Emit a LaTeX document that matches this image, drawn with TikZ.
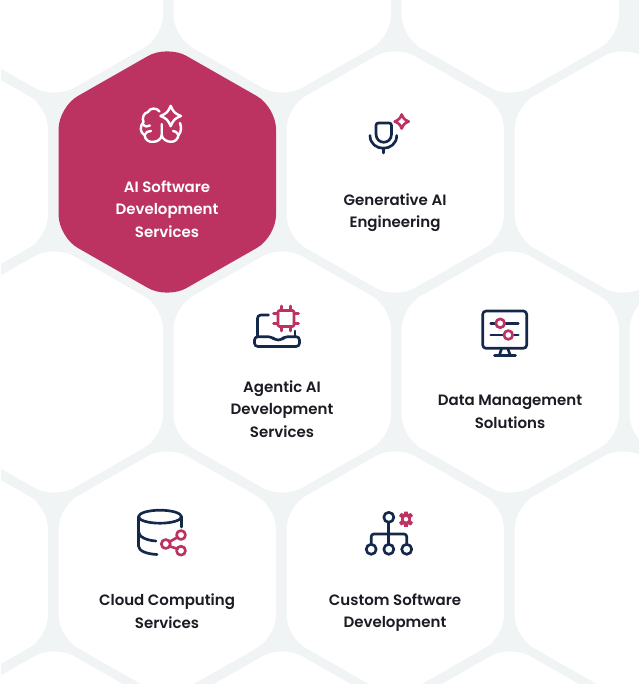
\documentclass[tikz,border=0pt]{standalone}
\usepackage{fontspec}
\setmainfont{Poppins}[BoldFont={Poppins SemiBold}]
\definecolor{gapgrey}{HTML}{F0F4F5}
\definecolor{cellrose}{HTML}{BC3361}
\definecolor{iconnavy}{HTML}{14284B}
\definecolor{labelink}{HTML}{1B1B24}
\tikzset{
	celllabel/.style={inner sep=0pt,align=center,font=\fontsize{11.25}{17}\selectfont\bfseries,text=labelink},
	navyline/.style={draw=iconnavy,line width=2pt,line cap=round,line join=round},
	roseline/.style={draw=cellrose,line width=2pt,line cap=round,line join=round},
	whiteline/.style={draw=white,line width=1.8pt,line cap=round,line join=round},
}
% one rounded honeycomb cell: centre x, centre y, colour
\newcommand{\hexcell}[3]{
	\fill[#3,rounded corners=16.5pt] (#1,#2-127) -- (#1+108.7,#2-65) -- (#1+108.7,#2+65) -- (#1,#2+127) -- (#1-108.7,#2+65) -- (#1-108.7,#2-65) -- cycle;
}
% four pointed star outline: centre x, centre y, radius, style
\newcommand{\sparkle}[4]{
	\draw[#4] (#1,#2-#3) .. controls (#1+0.25*#3,#2-0.4*#3) and (#1+0.4*#3,#2-0.25*#3) .. (#1+#3,#2)
		.. controls (#1+0.4*#3,#2+0.25*#3) and (#1+0.25*#3,#2+0.4*#3) .. (#1,#2+#3)
		.. controls (#1-0.25*#3,#2+0.4*#3) and (#1-0.4*#3,#2+0.25*#3) .. (#1-#3,#2)
		.. controls (#1-0.4*#3,#2-0.25*#3) and (#1-0.25*#3,#2-0.4*#3) .. cycle;
}
\begin{document}
\begin{tikzpicture}[x=0.75pt,y=0.75pt,yscale=-1,xscale=1]
	\useasboundingbox (0,0) rectangle (639,684);
	\clip (0,0) rectangle (639,684);

	% Background and cells
	\fill[white] (0,0) rectangle (639,684);
	\fill[gapgrey] (1,0) rectangle (639,684);
	\foreach \cx/\cy in {54.3/-28,282.3/-28,510.3/-28,
			-60.7/172,395.3/172,623.3/172,
			54.3/372,282.3/372,510.3/372,738.3/372,
			-60.7/572,167.3/572,395.3/572,623.3/572,
			54.3/772,282.3/772,510.3/772}{
		\hexcell{\cx}{\cy}{white}
	}
	\hexcell{167.3}{172}{cellrose}

	% Brain icon
	\draw[whiteline] (159.5,111.5) .. controls (157,107.5) and (150,107.5) .. (148,112) .. controls (143,113) and (142,119) .. (143.5,122) .. controls (139.5,126) and (140,133) .. (144.5,135)
		.. controls (145,140) and (149,142.5) .. (153.5,141.8) .. controls (157.5,141.8) and (161.5,139) .. (161.7,135) -- (161.7,124);
	\draw[whiteline] (161.7,135) .. controls (162,139) and (167,142) .. (171,141.8) .. controls (175,142) and (178,139) .. (178.5,135) .. controls (181.5,132) and (181.5,127) .. (180,123);
	\draw[whiteline] (142.5,124) .. controls (145,127) and (148,127) .. (150,125.5);
	\draw[whiteline] (144.5,135) .. controls (146,132) and (148,131) .. (151,131);
	\draw[whiteline] (178.5,135) .. controls (177,132) and (175,131) .. (173,131);
	\sparkle{170.7}{116}{10.2}{whiteline}
	% Text Node
	\node[celllabel,text=white] (aisoftware) at (167,209) {AI Software\\Development\\Services};

	% Microphone icon
	\draw[navyline] (378.5,123) -- (389,123) .. controls (390.5,123) and (391.5,124) .. (391.5,125.5) -- (391.5,134) .. controls (391.5,145) and (376,145) .. (376,134) -- (376,125.5) .. controls (376,124) and (377,123) .. (378.5,123) -- cycle;
	\draw[navyline] (370,135.5) .. controls (370,152.5) and (396.7,152.5) .. (396.7,135.5);
	\draw[navyline] (383.3,148) -- (383.3,153);
	\sparkle{401.7}{121.5}{7}{roseline}
	% Text Node
	\node[celllabel] (generative) at (395,212.6) {Generative AI\\Engineering};

	% Laptop and chip icon
	\draw[navyline,rounded corners=2.5pt] (268.5,315) -- (257.5,315) -- (257.5,336.7);
	\draw[navyline] (295,331) -- (295,336.7);
	\draw[navyline,rounded corners=2.5pt] (254.5,336.7) -- (271.5,336.7) -- (275,340) -- (281.5,340) -- (284.5,336.7) -- (299.5,336.7) -- (299.5,346.5) -- (254.5,346.5) -- cycle;
	\draw[roseline,rounded corners=1pt] (278,310.5) rectangle (294,326.5);
	\foreach \pin in {-4.7,4.7}{
		\draw[roseline] (286+\pin,310.5) -- (286+\pin,306);
		\draw[roseline] (286+\pin,326.5) -- (286+\pin,331);
		\draw[roseline] (278,318.5+\pin) -- (273.5,318.5+\pin);
		\draw[roseline] (294,318.5+\pin) -- (298.5,318.5+\pin);
	}
	% Text Node
	\node[celllabel] (agentic) at (282,409) {Agentic AI\\Development\\Services};

	% Monitor icon
	\draw[navyline,rounded corners=2.5pt] (482.7,311) rectangle (526.7,348.3);
	\draw[navyline] (490.7,323.3) -- (518.3,323.3);
	\draw[navyline] (490.7,335) -- (518.3,335);
	\draw[navyline] (501.7,348.3) -- (499.3,355.5);
	\draw[navyline] (507.7,348.3) -- (510.3,355.5);
	\draw[navyline] (494.5,355.7) -- (515.5,355.7);
	\draw[roseline,fill=white] (500.2,323.3) circle (4.4);
	\draw[roseline,fill=white] (508.3,335) circle (4.4);
	% Text Node
	\node[celllabel] (datamgmt) at (510,412) {Data Management\\Solutions};

	% Database icon
	\draw[navyline] (160,516.7) ellipse (21.5 and 6.5);
	\draw[navyline] (138.5,516.7) -- (138.5,546) .. controls (138.5,551) and (147,554) .. (157,554.5);
	\draw[navyline] (138.5,531.5) .. controls (138.5,537) and (147,540.5) .. (156,541);
	\draw[navyline] (181.5,516.7) -- (181.5,527);
	\draw[roseline] (169.5,541.8) -- (177.5,537.2);
	\draw[roseline] (169.5,546.2) -- (177.5,548.8);
	\draw[roseline] (181,535) circle (4.5);
	\draw[roseline] (165.8,544) circle (4.5);
	\draw[roseline] (181,550.7) circle (4.5);
	% Text Node
	\node[celllabel] (cloud) at (167,611.4) {Cloud Computing\\Services};

	% Org chart icon
	\draw[navyline] (388.8,517.3) circle (5);
	\draw[navyline] (388.8,522.4) -- (388.8,544);
	\draw[navyline,rounded corners=2pt] (371.2,544) -- (371.2,534) -- (406.7,534) -- (406.7,544);
	\foreach \cx in {371.2,388.8,406.7}{
		\draw[navyline] (\cx,549.3) circle (5);
	}
	% gear: six teeth round a hole
	\fill[cellrose,even odd rule]
		(404.2,511.5) -- (407.8,511.5) -- (408.3,514.2) -- (410.9,512.9) -- (413,515.9) -- (410.8,517.8) -- (410.8,520.6) -- (413,522.5) -- (410.9,525.5) -- (408.3,524.2) -- (407.8,526.9) -- (404.2,526.9) -- (403.7,524.2) -- (401.1,525.5) -- (399,522.5) -- (401.2,520.6) -- (401.2,517.8) -- (399,515.9) -- (401.1,512.9) -- (403.7,514.2) -- cycle
		(406,519.2) circle (2.4);
	% Text Node
	\node[celllabel] (custom) at (395,612.6) {Custom Software\\Development};
\end{tikzpicture}
\end{document}
